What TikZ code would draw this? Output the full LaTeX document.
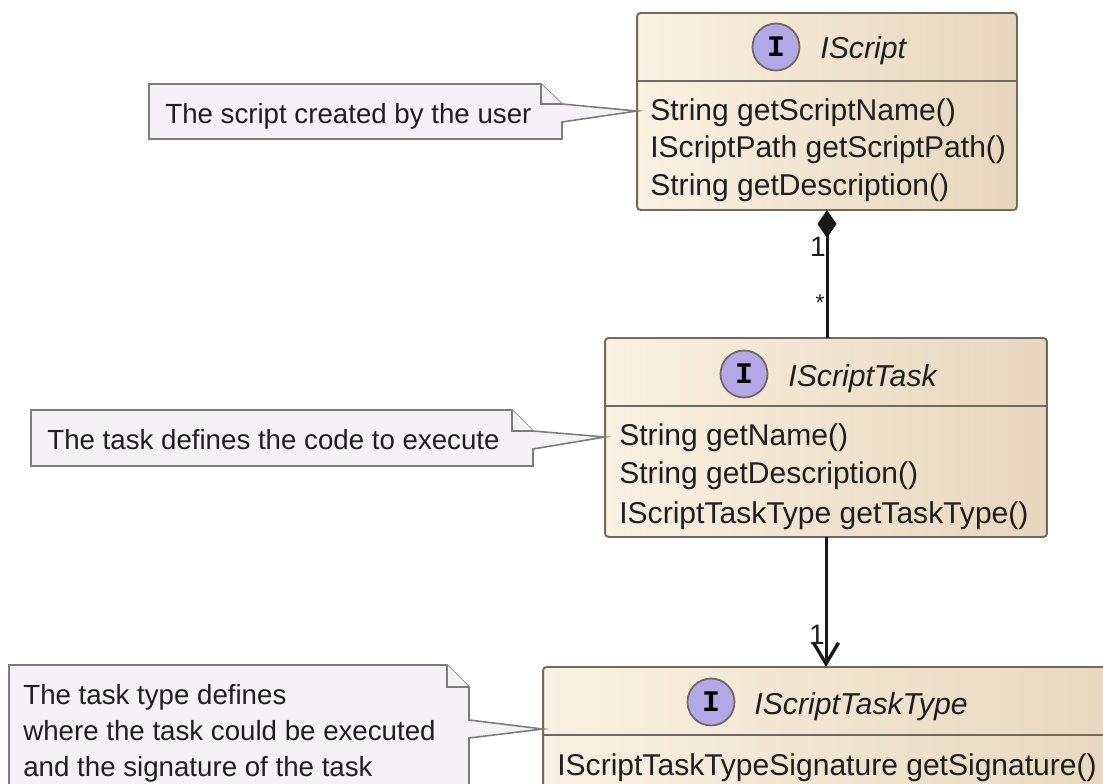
\documentclass[tikz,border=0pt]{standalone}
\usepackage{fontspec}
\setmainfont{Liberation Sans}
\newfontfamily\badgefont{Liberation Mono}
\usetikzlibrary{arrows.meta}
\definecolor{boxleft}{HTML}{FAF1E2}
\definecolor{boxright}{HTML}{E7D6BC}
\definecolor{boxline}{HTML}{6E6A60}
\definecolor{notefill}{HTML}{F5F2F6}
\definecolor{noteline}{HTML}{7C7C7C}
\definecolor{badgefill}{HTML}{B4A7E5}
\definecolor{inktext}{HTML}{1E1E1E}
\tikzset{
  classbox/.style={draw=boxline,line width=1.1pt,rounded corners=2pt,left color=boxleft,right color=boxright,shading angle=90,outer sep=0,inner sep=0},
  badge/.style={circle,draw=boxline,line width=1pt,fill=badgefill,minimum size=0.94cm,inner sep=0,text=black,font=\badgefont\bfseries\fontsize{17}{17}\selectfont},
  title/.style={anchor=base west,inner sep=0,text=inktext,font=\itshape\fontsize{17.2}{20}\selectfont},
  method/.style={anchor=base west,inner sep=0,text=inktext,font=\fontsize{17.1}{20}\selectfont},
  notetext/.style={anchor=base west,inner sep=0,text=inktext,font=\fontsize{15.75}{18}\selectfont},
  multi/.style={inner sep=0,text=inktext,font=\fontsize{16}{16}\selectfont},
  notepath/.style={draw=noteline,line width=0.9pt,fill=notefill},
  link/.style={draw=black!90,line width=1.7pt}
}
\begin{document}
\begin{tikzpicture}[x=0.02cm,y=-0.02cm]
\useasboundingbox (0,0) rectangle (1103,784);
\clip (0,0) rectangle (1103,784);

% class boxes
\node[classbox,minimum width=7.6cm,minimum height=3.94cm] (script) at (827,111.5) {};
\node[classbox,minimum width=8.84cm,minimum height=3.98cm] (task) at (826,437.5) {};
\node[classbox,minimum width=12cm,minimum height=4cm] (type) at (843,767) {};

\draw[boxline,line width=0.9pt] (script.west |- 0,81) -- (script.east |- 0,81);
\draw[boxline,line width=0.9pt] (task.west |- 0,406) -- (task.east |- 0,406);
\draw[boxline,line width=0.9pt] (type.west |- 0,735) -- (type.east |- 0,735);

\node[badge] (b0) at (776,47) {I};
\node[badge] (b1) at (744,374) {I};
\node[badge] (b2) at (711,702) {I};
\node[title] (t0) at (820,59) {IScript};
\node[title] (t1) at (788,386) {IScriptTask};
\node[title] (t2) at (754,714) {IScriptTaskType};

\foreach \i/\y/\txt in {0/121/String getScriptName(),1/157/IScriptPath getScriptPath(),2/195/String getDescription()}
{
        \node[method] (ms\i) at (650,\y) {\txt};
}
\foreach \i/\y/\txt in {0/445/String getName(),1/483/String getDescription(),2/523/IScriptTaskType getTaskType()}
{
        \node[method] (mt\i) at (619,\y) {\txt};
}
\node[method] (my0) at (557,775) {IScriptTaskTypeSignature getSignature()};

% notes
\coordinate (tip0) at (script.west |- 0,111);
\coordinate (tip1) at (task.west |- 0,437);
\coordinate (tip2) at (type.west |- 0,729);

\draw[notepath] (149,84) -- (541,84) -- (562,104) -- (tip0) -- (562,122) -- (562,139) -- (149,139) -- cycle;
\draw[notepath] (541,84) -- (541,104) -- (562,104);
\draw[notepath] (31,410) -- (512,410) -- (533,431) -- (tip1) -- (533,449) -- (533,466) -- (31,466) -- cycle;
\draw[notepath] (512,410) -- (512,431) -- (533,431);
\draw[notepath] (9,665) -- (447,665) -- (469,687) -- (469,720) -- (tip2) -- (469,738) -- (469,800) -- (9,800) -- cycle;
\draw[notepath] (447,665) -- (447,687) -- (469,687);

\node[notetext] (n0) at (165,124) {The script created by the user};
\node[notetext] (n1) at (47,449) {The task defines the code to execute};
\node[notetext] (n2) at (23,704) {The task type defines};
\node[notetext] (n3) at (23,740) {where the task could be executed};
\node[notetext] (n4) at (23,776) {and the signature of the task};

% links
\draw[link,{Diamond[length=0.56cm,width=0.38cm]}-] (script.south) -- (task.north -| script.south);
\draw[link,-{Straight Barb[length=0.42cm,width=0.5cm,line width=1.9pt]}] (task.south) -- (type.north -| task.south);

\node[multi] (m0) at (818,247) {1};
\node[multi,font=\fontsize{13}{13}\selectfont] (m1) at (820,303) {*};
\node[multi] (m2) at (817,635) {1};
\end{tikzpicture}
\end{document}
